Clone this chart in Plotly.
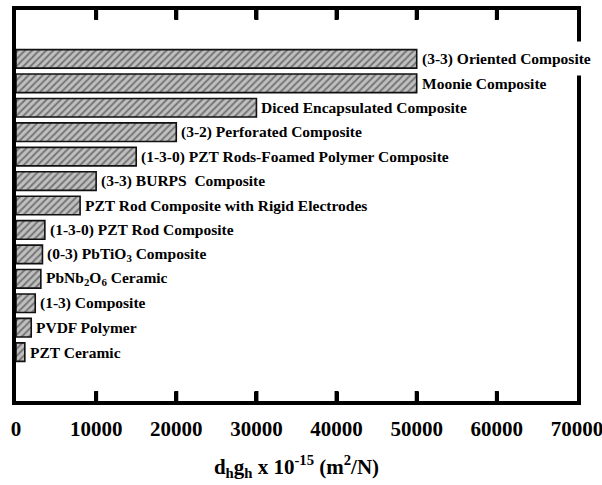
import plotly.graph_objects as go

categories = [
    "PZT Ceramic",
    "PVDF Polymer",
    "(1-3) Composite",
    "PbNb<sub>2</sub>O<sub>6</sub> Ceramic",
    "(0-3) PbTiO<sub>3</sub> Composite",
    "(1-3-0) PZT Rod Composite",
    "PZT Rod Composite with Rigid Electrodes",
    "(3-3) BURPS  Composite",
    "(1-3-0) PZT Rods-Foamed Polymer Composite",
    "(3-2) Perforated Composite",
    "Diced Encapsulated Composite",
    "Moonie Composite",
    "(3-3) Oriented Composite",
]
values = [1100, 1900, 2400, 3100, 3300, 3600, 8000, 10000, 15000, 20000, 30000, 50000, 50000]
tick_vals = [0, 10000, 20000, 30000, 40000, 50000, 60000, 70000]
tick_text = [str(v) for v in tick_vals]

FONT = "Liberation Serif"
Y_RANGE = [-2, 14]
PLOT_H = 485 - 10 - 84
TICK_FRAC = 10 / PLOT_H

fig = go.Figure()
fig.add_trace(go.Bar(
    x=values,
    y=list(range(len(categories))),
    orientation="h",
    width=0.76,
    marker=dict(
        color="#b8b8b8",
        line=dict(color="#111111", width=1.6),
        pattern=dict(shape="/", fgcolor="#2a2a2a", bgcolor="#c0c0c0", size=5, solidity=0.4),
    ),
    hoverinfo="skip",
))

# inward tick marks on bottom and top frame
shapes = []
for tv in tick_vals[1:-1]:
    shapes.append(dict(type="line", xref="x", yref="y domain", x0=tv, x1=tv,
                       y0=0, y1=TICK_FRAC, line=dict(color="black", width=4), layer="above"))
    shapes.append(dict(type="line", xref="x", yref="y domain", x0=tv, x1=tv,
                       y0=1 - TICK_FRAC, y1=1, line=dict(color="black", width=4), layer="above"))

annotations = []
# white gap in the right frame behind the top label
annotations.append(dict(
    x=70000, y=len(categories) - 1, xref="x", yref="y",
    text=" ", showarrow=False, bgcolor="white",
    width=14, height=33, xanchor="center", yanchor="middle",
    borderpad=0, font=dict(size=12),
))
for i, (c, v) in enumerate(zip(categories, values)):
    annotations.append(dict(
        x=v, y=i, xref="x", yref="y", text=c, showarrow=False,
        xanchor="left", yanchor="middle", xshift=3,
        font=dict(family=FONT, size=15.5, color="black", weight="bold"),
    ))

fig.update_layout(
    width=602, height=485,
    margin=dict(l=16, r=25, t=10, b=84, autoexpand=False),
    paper_bgcolor="white", plot_bgcolor="white",
    showlegend=False,
    annotations=annotations,
    shapes=shapes,
    xaxis=dict(
        range=[0, 70000],
        automargin=False,
        tickmode="array", tickvals=tick_vals, ticktext=tick_text,
        ticks="inside", ticklen=9, tickwidth=4, tickcolor="black",
        showline=True, linewidth=3.5, linecolor="black", mirror="ticks",
        showgrid=False, zeroline=False,
        ticklabelstandoff=6,
        ticklabeloverflow="allow",
        tickfont=dict(family=FONT, size=21, color="black", weight="bold"),
        title=dict(
            text="d<sub>h</sub>g<sub>h</sub> x 10<sup>-15</sup> (m<sup>2</sup>/N)",
            font=dict(family=FONT, size=21, color="black", weight="bold"),
            standoff=20,
        ),
    ),
    yaxis=dict(
        range=Y_RANGE,
        automargin=False,
        showticklabels=False, ticks="",
        showline=True, linewidth=3.5, linecolor="black", mirror=True,
        showgrid=False, zeroline=False,
    ),
)

fig.write_html("out.html")
